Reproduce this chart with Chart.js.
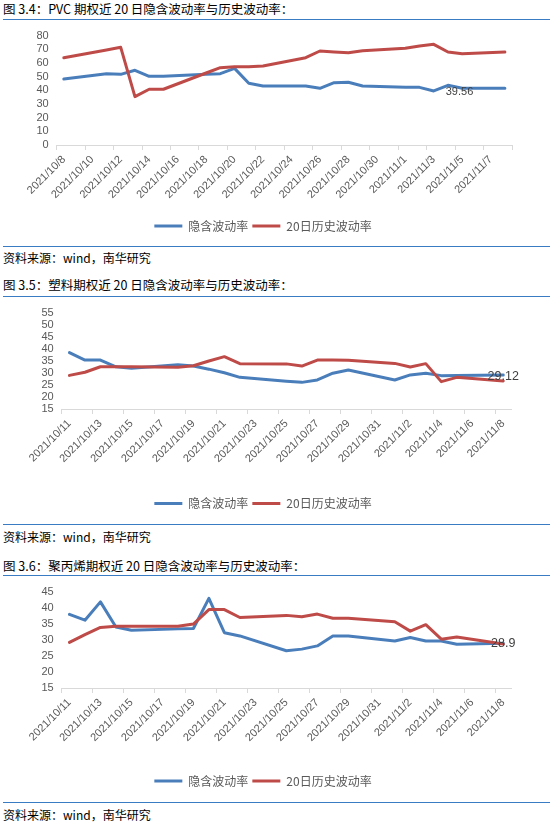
<!DOCTYPE html>
<html><head><meta charset="utf-8">
<script src="https://cdn.jsdelivr.net/npm/chart.js@4.4.0/dist/chart.umd.min.js"></script>
<style>
html,body{margin:0;padding:0;background:#fff;width:550px;height:824px;overflow:hidden;}
body{position:relative;font-family:"Noto Sans CJK SC","Noto Sans",sans-serif;}
.hdr,.src{position:absolute;left:3px;color:#000;white-space:nowrap;line-height:1;}
.hdr{font-size:12.5px;}
.src{font-size:12px;}
.rule{position:absolute;left:3px;right:0;height:0;border-top:1.5px solid #3A7CC4;}
canvas{position:absolute;}
</style></head>
<body>
<div class="hdr" style="top:3px">图 3.4：PVC 期权近 20 日隐含波动率与历史波动率：</div>
<div class="rule" style="top:18.5px"></div>
<canvas id="c1" width="536" height="223" style="left:14px;top:21px"></canvas>
<div class="rule" style="top:245.5px"></div>
<div class="src" style="top:251.5px">资料来源：wind，南华研究</div>
<div class="hdr" style="top:278.5px">图 3.5：塑料期权近 20 日隐含波动率与历史波动率：</div>
<div class="rule" style="top:295.5px"></div>
<canvas id="c2" width="535" height="224" style="left:15px;top:298px"></canvas>
<div class="rule" style="top:523.5px"></div>
<div class="src" style="top:531px">资料来源：wind，南华研究</div>
<div class="hdr" style="top:560px">图 3.6：聚丙烯期权近 20 日隐含波动率与历史波动率：</div>
<div class="rule" style="top:575px"></div>
<canvas id="c3" width="535" height="223" style="left:15px;top:577px"></canvas>
<div class="rule" style="top:802px"></div>
<div class="src" style="top:809px">资料来源：wind，南华研究</div>
<script>
// ---- data ----
const seriesNames = ['隐含波动率', '20日历史波动率'];

const pvcDates = ['2021/10/8','2021/10/11','2021/10/12','2021/10/13','2021/10/14','2021/10/15','2021/10/18','2021/10/19','2021/10/20','2021/10/21','2021/10/22','2021/10/25','2021/10/26','2021/10/27','2021/10/28','2021/10/29','2021/11/1','2021/11/2','2021/11/3','2021/11/4','2021/11/5','2021/11/8'];
const pvcImplied = [48.3,52.2,51.7,54.7,50.3,50.4,51.7,52.2,56.1,45.2,43.2,43.2,41.5,45.6,45.9,43.2,42.2,42.2,39.56,43.7,41.5,41.5];
const pvcHistory = [63.9,69.6,71.5,35.4,40.8,40.8,52.7,56.6,57.3,57.3,57.8,63.9,68.8,68.1,67.6,69.0,70.8,72.5,73.7,68.1,66.8,68.0];
const pvcYRange = [0, 80, 10];

const peDates = ['2021/10/11','2021/10/12','2021/10/13','2021/10/14','2021/10/15','2021/10/18','2021/10/19','2021/10/20','2021/10/21','2021/10/22','2021/10/25','2021/10/26','2021/10/27','2021/10/28','2021/10/29','2021/11/1','2021/11/2','2021/11/3','2021/11/4','2021/11/5','2021/11/8'];
const peImplied = [38.5,35.4,35.4,32.6,32.0,33.4,32.9,31.6,30.1,28.2,26.6,26.1,27.1,29.9,31.25,27.1,29.2,29.9,28.9,29.0,29.12];
const peHistory = [29.0,30.3,32.6,32.6,32.6,32.4,33.0,35.0,36.8,33.9,33.8,32.9,35.4,35.4,35.3,34.0,32.5,33.9,26.4,28.2,26.7];
const peYRange = [15, 55, 5];

const ppDates = ['2021/10/11','2021/10/12','2021/10/13','2021/10/14','2021/10/15','2021/10/18','2021/10/19','2021/10/20','2021/10/21','2021/10/22','2021/10/25','2021/10/26','2021/10/27','2021/10/28','2021/10/29','2021/11/1','2021/11/2','2021/11/3','2021/11/4','2021/11/5','2021/11/8'];
const ppImplied = [37.9,36.1,41.8,34.0,33.0,33.4,33.5,42.9,32.2,31.2,26.6,27.1,28.1,31.2,31.2,29.6,30.7,29.6,29.6,28.6,28.9];
const ppHistory = [29.2,31.6,33.85,34.2,34.2,34.2,34.9,39.4,39.4,36.95,37.6,37.15,38.0,36.7,36.7,35.6,32.7,34.7,30.2,30.9,28.7];
const ppYRange = [15, 45, 5];

// ---- helpers ----
const BLUE = '#4A7EBB', RED = '#BE4B48', GREY = '#595959';
function parseDate(s){ const [y,m,d] = s.split('/').map(Number); return Date.UTC(y, m-1, d); }
function calendar(dates){
  const out = [];
  for (let t = parseDate(dates[0]); t <= parseDate(dates[dates.length-1]); t += 86400000){
    const dt = new Date(t);
    out.push(dt.getUTCFullYear() + '/' + (dt.getUTCMonth()+1) + '/' + dt.getUTCDate());
  }
  return out;
}
function alignTo(days, dates, vals){
  const m = new Map(dates.map((d,i) => [d, vals[i]]));
  return days.map(d => m.has(d) ? m.get(d) : null);
}
const pointLabel = {
  id: 'pointLabel',
  afterDatasetsDraw(chart, args, o){
    if (!o || !o.date) return;
    const idx = chart.data.labels.indexOf(o.date);
    const el = chart.getDatasetMeta(o.dataset).data[idx];
    const v = chart.data.datasets[o.dataset].data[idx];
    const ctx = chart.ctx;
    ctx.save();
    ctx.font = o.size + 'px "Liberation Sans", Arial, sans-serif';
    ctx.fillStyle = '#404040';
    ctx.textAlign = o.align;
    ctx.textBaseline = 'middle';
    ctx.fillText(String(v), el.x + o.dx, el.y + o.dy);
    ctx.restore();
  }
};
function ds(label, data, color, order){
  return { label, data, borderColor: color, backgroundColor: color, borderWidth: 3,
    pointRadius: 0, pointHoverRadius: 0, pointStyle: 'line', pointBorderWidth: 3,
    pointBorderColor: color, pointBackgroundColor: color,
    spanGaps: true, tension: 0, order, borderJoinStyle: 'round', borderCapStyle: 'round' };
}
function build(id, dates, iv, hv, yr, lay, lbl){
  const days = calendar(dates);
  const n = days.length;
  new Chart(document.getElementById(id), {
    type: 'line',
    data: { labels: days, datasets: [ ds(seriesNames[0], alignTo(days, dates, iv), BLUE, 1),
                                      ds(seriesNames[1], alignTo(days, dates, hv), RED, 0) ] },
    options: {
      responsive: false, animation: false, events: [],
      layout: { padding: { left: 0, right: lay.padR, top: lay.padT, bottom: lay.padB } },
      plugins: {
        legend: { position: 'bottom', labels: { usePointStyle: true, pointStyleWidth: 28, color: GREY, padding: 4,
          font: { family: '"Noto Sans CJK SC", sans-serif', size: 12 },
          sort: (a, b) => a.datasetIndex - b.datasetIndex } },
        tooltip: { enabled: false },
        pointLabel: lbl
      },
      scales: {
        x: { type: 'category', offset: true,
          grid: { display: true, offset: true, drawOnChartArea: false, drawTicks: true, tickLength: 5, tickWidth: 1,
            tickColor: c => (((c.index === undefined ? n : c.index) % 2) === 0 ? '#D9D9D9' : 'rgba(0,0,0,0)') },
          border: { display: true, color: '#D9D9D9', width: 1 },
          ticks: { autoSkip: false, maxRotation: 45, minRotation: 45, color: GREY, padding: 3,
            font: { family: '"Liberation Sans", Arial, sans-serif', size: 11 },
            callback: function(v, i){ return i % 2 === 0 ? this.getLabelForValue(v) : ''; } },
          afterFit: s => { s.height = lay.xH; } },
        y: { min: yr[0], max: yr[1],
          ticks: { stepSize: yr[2], autoSkip: false, color: GREY, padding: 8, font: { family: '"Liberation Sans", Arial, sans-serif', size: 11 } },
          grid: { display: false, drawTicks: false }, border: { display: false },
          afterFit: s => { s.width = lay.yW; } }
      }
    },
    plugins: [pointLabel]
  });
}
build('c1', pvcDates, pvcImplied, pvcHistory, pvcYRange,
  { padT: 14.7, padB: 2, padR: 38, yW: 42.7, xH: 71 },
  { dataset: 0, date: '2021/11/3', align: 'left', dx: 12, dy: 1, size: 11 });
build('c2', peDates, peImplied, peHistory, peYRange,
  { padT: 15, padB: 2.5, padR: 39, yW: 46.7, xH: 84.5 },
  { dataset: 0, date: '2021/11/8', align: 'center', dx: 0, dy: 1, size: 12.5 });
build('c3', ppDates, ppImplied, ppHistory, ppYRange,
  { padT: 14, padB: 3, padR: 39, yW: 46.7, xH: 83 },
  { dataset: 0, date: '2021/11/8', align: 'center', dx: 0, dy: 0, size: 12.5 });
</script>
</body></html>
